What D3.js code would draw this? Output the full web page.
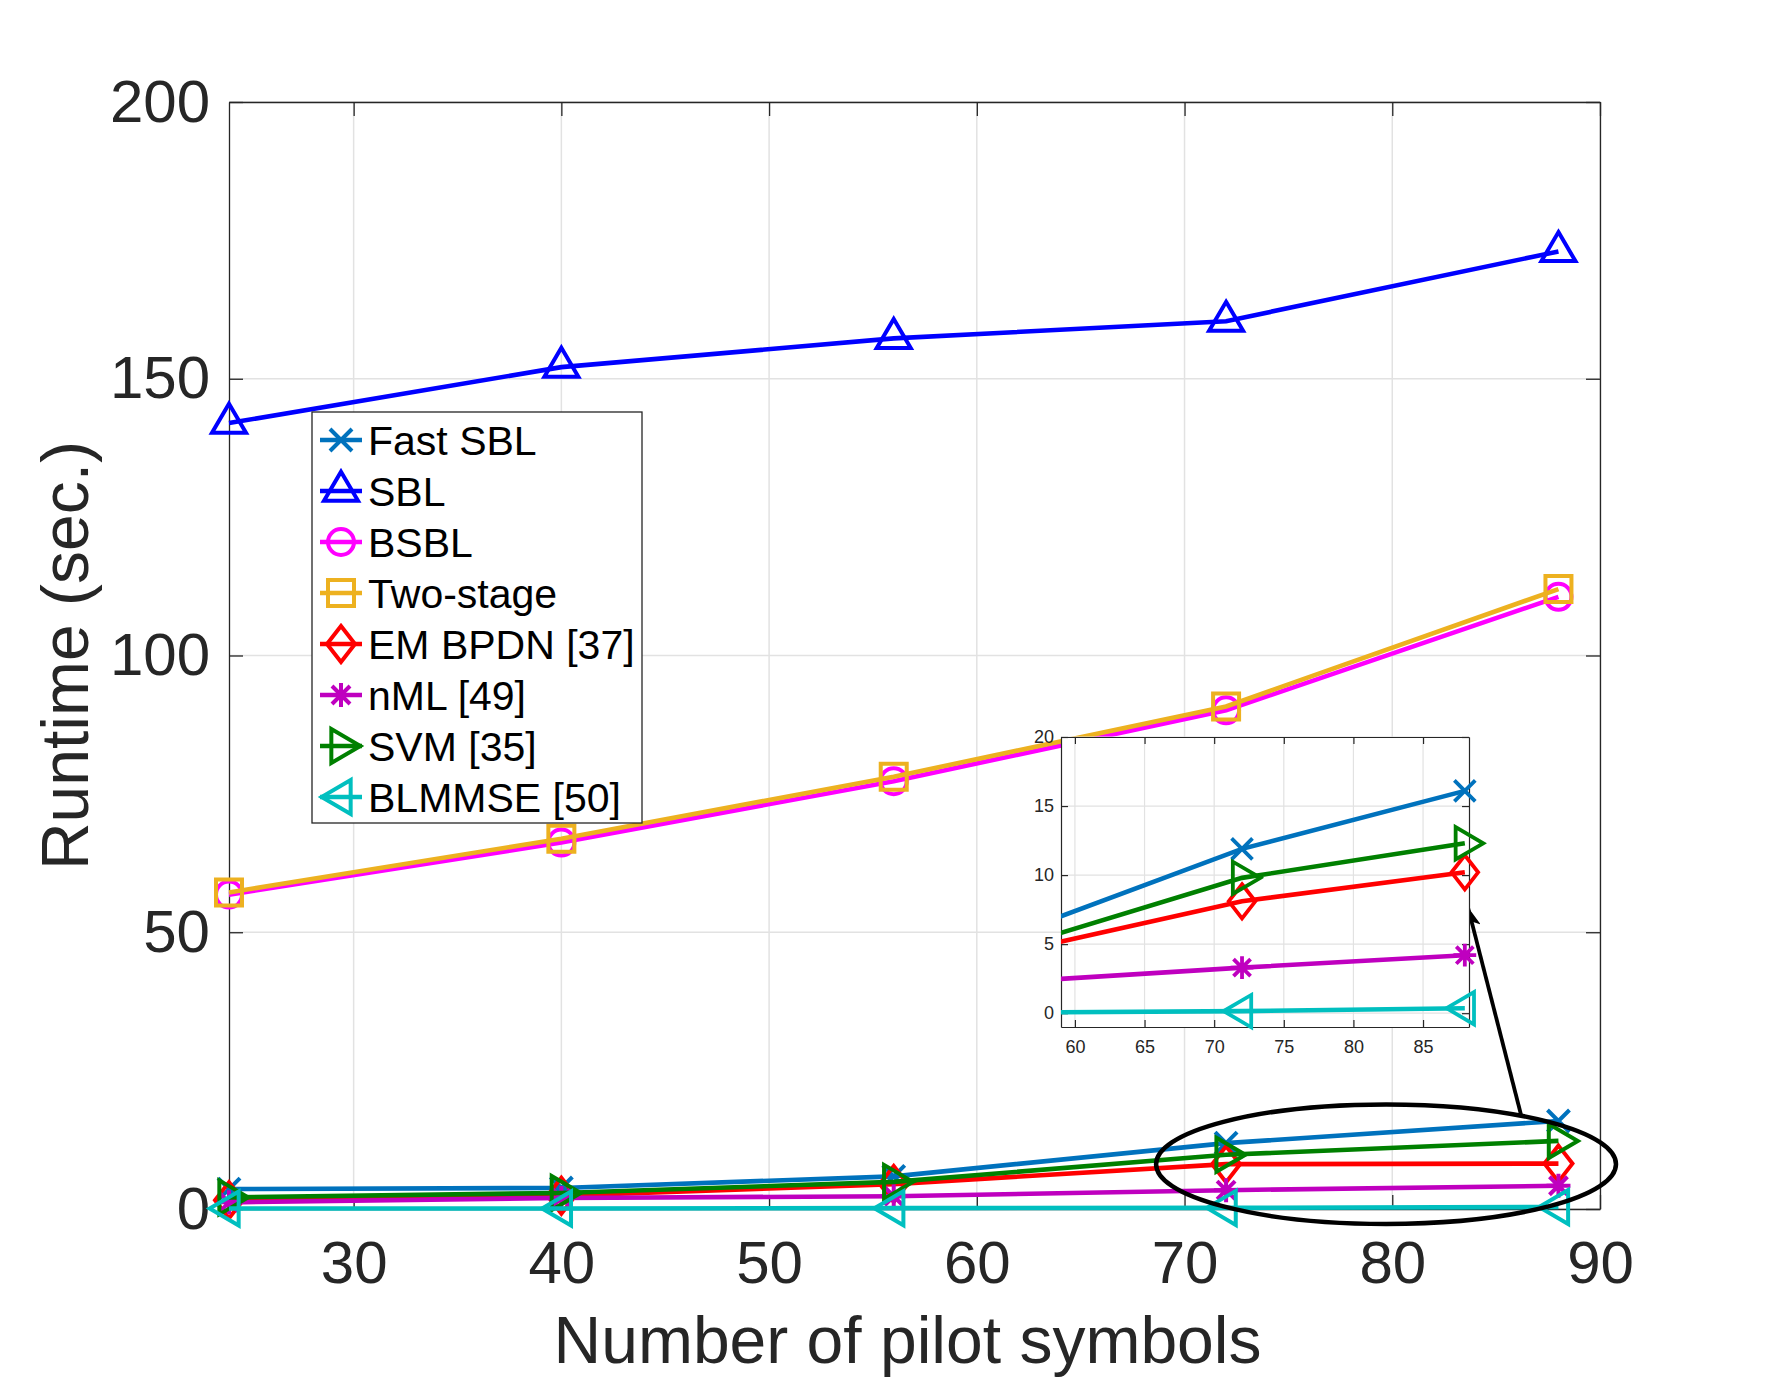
<!DOCTYPE html>
<html>
<head>
<meta charset="utf-8">
<script src="https://cdn.jsdelivr.net/npm/d3@7"></script>
<style>
body { margin: 0; background: #fff; }
text { font-family: "Liberation Sans", Arial, Helvetica, sans-serif; }
</style>
</head>
<body>
<div id="chart"></div>
<script>
// ---- data ----
var pilots = [24, 40, 56, 72, 88];
var fastSbl  = [3.6, 3.8, 5.9, 11.9, 15.9];
var sbl      = [142.0, 152.1, 157.3, 160.4, 173.0];
var bsbl     = [56.8, 66.2, 77.3, 90.1, 110.6];
var twoStage = [57.2, 66.9, 78.1, 90.8, 112.0];
var emBpdn   = [1.6, 2.4, 4.5, 8.1, 8.2];
var nml      = [1.2, 2.0, 2.3, 3.4, 4.2];
var svm      = [2.1, 2.9, 4.9, 9.8, 12.3];
var blmmse   = [0.1, 0.1, 0.15, 0.2, 0.35];

// the zoomed panel shows the last points again (EM BPDN ends higher there)
var insetPilots  = [56, 72, 88];
var fastSblInset = [5.9, 11.9, 16.1];
var emBpdnInset  = [4.5, 8.1, 10.2];
var nmlInset     = [2.3, 3.3, 4.2];
var svmInset     = [4.9, 9.8, 12.3];
var blmmseInset  = [0.05, 0.15, 0.36];

var seriesNames = ["Fast SBL", "SBL", "BSBL", "Two-stage", "EM BPDN [37]", "nML [49]", "SVM [35]", "BLMMSE [50]"];

var xTicks = [30, 40, 50, 60, 70, 80, 90];
var yTicks = [0, 50, 100, 150, 200];
var insetXTicks = [60, 65, 70, 75, 80, 85];
var insetYTicks = [0, 5, 10, 15, 20];

// ellipse + arrow given in data units of the main axes
var zoomEllipse = {cx: 79.7, cy: 8.1, rx: 11.07, ry: 10.8};
var zoomArrow = {x1: 86.2, y1: 17.0, x2: 83.65, y2: 54.4};

// ---- styles ----
var colors = ["#0072BD", "#0000FF", "#FF00FF", "#EDB120", "#FF0000", "#BF00BF", "#008000", "#00BFBF"];
var markers = ["x", "triUp", "circle", "square", "diamond", "asterisk", "triRight", "triLeft"];

var series = [fastSbl, sbl, bsbl, twoStage, emBpdn, nml, svm, blmmse].map(function(v, i) {
    return {name: seriesNames[i], color: colors[i], marker: markers[i],
        points: pilots.map(function(p, j) { return {x: p, y: v[j]}; })};
});
var insetValues = [fastSblInset, null, null, null, emBpdnInset, nmlInset, svmInset, blmmseInset];
var insetSeries = [];
insetValues.forEach(function(v, i) {
    if (!v) return;
    insetSeries.push({color: colors[i], marker: markers[i],
        points: insetPilots.map(function(p, j) { return {x: p, y: v[j]}; })});
});

// marker shapes, centred on the data point
function markerPath(type, k) {
    k = k || 1;
    var s;
    switch (type) {
        case "x":
            s = 11 * k;
            return "M" + -s + "," + -s + "L" + s + "," + s + "M" + -s + "," + s + "L" + s + "," + -s;
        case "triUp":
            var w = 17 * k, h = 29 * k;
            return "M0," + (-2 * h / 3) + "L" + w + "," + (h / 3) + "L" + -w + "," + (h / 3) + "Z";
        case "triRight":
            var w2 = 29 * k, h2 = 17 * k;
            return "M" + (2 * w2 / 3) + ",0L" + (-w2 / 3) + "," + h2 + "L" + (-w2 / 3) + "," + -h2 + "Z";
        case "triLeft":
            var w3 = 29 * k, h3 = 17 * k;
            return "M" + (-2 * w3 / 3) + ",0L" + (w3 / 3) + "," + h3 + "L" + (w3 / 3) + "," + -h3 + "Z";
        case "circle":
            s = 13 * k;
            return "M" + -s + ",0A" + s + "," + s + " 0 1,0 " + s + ",0A" + s + "," + s + " 0 1,0 " + -s + ",0Z";
        case "square":
            s = 13 * k;
            return "M" + -s + "," + -s + "H" + s + "V" + s + "H" + -s + "Z";
        case "diamond":
            var dw = 14 * k, dh = 18 * k;
            return "M0," + -dh + "L" + dw + ",0L0," + dh + "L" + -dw + ",0Z";
        case "asterisk":
            s = 12 * k;
            var d = s * 0.75;
            return "M0," + -s + "V" + s + "M" + -s + ",0H" + s +
                "M" + -d + "," + -d + "L" + d + "," + d + "M" + -d + "," + d + "L" + d + "," + -d;
    }
}

var W = 1768, H = 1379;
var svg = d3.select("#chart").append("svg")
    .attr("width", W)
    .attr("height", H);

var axisColor = "#262626", gridColor = "#e2e2e2";

// ---- main axes ----
var plot = {left: 229, right: 1600, top: 102, bottom: 1209};
var x = d3.scaleLinear().domain([24, 90]).range([plot.left, plot.right]);
var y = d3.scaleLinear().domain([0, 200]).range([plot.bottom, plot.top]);

function drawAxes(g, xs, ys, box, xt, yt, o) {
    // grid
    g.append("g").selectAll("line").data(xt).enter().append("line")
        .attr("x1", function(d) { return xs(d); }).attr("x2", function(d) { return xs(d); })
        .attr("y1", box.top).attr("y2", box.bottom)
        .attr("stroke", gridColor).attr("stroke-width", o.grid);
    g.append("g").selectAll("line").data(yt).enter().append("line")
        .attr("y1", function(d) { return ys(d); }).attr("y2", function(d) { return ys(d); })
        .attr("x1", box.left).attr("x2", box.right)
        .attr("stroke", gridColor).attr("stroke-width", o.grid);

    var bottom = g.append("g").attr("transform", "translate(0," + box.bottom + ")")
        .call(d3.axisBottom(xs).tickValues(xt).tickSizeInner(-o.tick).tickSizeOuter(0).tickPadding(o.xPad));
    var top = g.append("g").attr("transform", "translate(0," + box.top + ")")
        .call(d3.axisTop(xs).tickValues(xt).tickSizeInner(-o.tick).tickSizeOuter(0).tickFormat(""));
    var left = g.append("g").attr("transform", "translate(" + box.left + ",0)")
        .call(d3.axisLeft(ys).tickValues(yt).tickSizeInner(-o.tick).tickSizeOuter(0).tickPadding(o.yPad));
    var right = g.append("g").attr("transform", "translate(" + box.right + ",0)")
        .call(d3.axisRight(ys).tickValues(yt).tickSizeInner(-o.tick).tickSizeOuter(0).tickFormat(""));

    [bottom, top, left, right].forEach(function(a) {
        a.select(".domain").attr("stroke", axisColor).attr("stroke-width", o.axis);
        a.selectAll(".tick line").attr("stroke", axisColor).attr("stroke-width", o.axis);
        a.selectAll("text").attr("fill", axisColor).style("font-size", o.font + "px")
            .style("font-family", "'Liberation Sans', Arial, sans-serif");
    });
}

function drawSeries(g, list, xs, ys, o) {
    var line = d3.line().x(function(d) { return xs(d.x); }).y(function(d) { return ys(d.y); });
    list.forEach(function(s) {
        var sg = g.append("g");
        sg.append("path")
            .datum(s.points)
            .attr("d", line)
            .attr("fill", "none")
            .attr("stroke", s.color)
            .attr("stroke-width", o.line)
            .attr("clip-path", o.clip ? "url(#" + o.clip + ")" : null);
        sg.selectAll(".mk")
            .data(s.points.filter(function(d) { return d.x >= xs.domain()[0] && d.x <= xs.domain()[1]; }))
            .enter().append("path")
            .attr("class", "mk")
            .attr("transform", function(d) { return "translate(" + xs(d.x) + "," + ys(d.y) + ")"; })
            .attr("d", markerPath(s.marker, o.marker))
            .attr("fill", "none")
            .attr("stroke", s.color)
            .attr("stroke-width", o.markerStroke)
            .attr("stroke-linejoin", "miter");
    });
}

var main = svg.append("g");
main.append("rect")
    .attr("x", plot.left).attr("y", plot.top)
    .attr("width", plot.right - plot.left).attr("height", plot.bottom - plot.top)
    .attr("fill", "#fff");
drawAxes(main, x, y, plot, xTicks, yTicks, {grid: 1.5, tick: 14, axis: 1.3, xPad: 31, yPad: 19, font: 60});
drawSeries(main, series, x, y, {line: 4.6, marker: 1, markerStroke: 4});

// axis labels
svg.append("text")
    .attr("x", (plot.left + plot.right) / 2 - 7)
    .attr("y", 1363)
    .attr("text-anchor", "middle")
    .attr("fill", axisColor)
    .style("font-size", "66px")
    .text("Number of pilot symbols");

svg.append("text")
    .attr("transform", "translate(88," + (plot.top + plot.bottom) / 2 + ") rotate(-90)")
    .attr("text-anchor", "middle")
    .attr("fill", axisColor)
    .style("font-size", "66px")
    .text("Runtime (sec.)");

// ---- legend ----
var legend = svg.append("g");
legend.append("rect")
    .attr("x", 312).attr("y", 412)
    .attr("width", 330).attr("height", 411)
    .attr("fill", "#fff")
    .attr("stroke", axisColor)
    .attr("stroke-width", 1.3);
var rows = legend.selectAll(".row").data(series).enter().append("g")
    .attr("class", "row")
    .attr("transform", function(d, i) { return "translate(0," + (440 + i * 51) + ")"; });
rows.append("line")
    .attr("x1", 320).attr("x2", 362)
    .attr("stroke", function(d) { return d.color; })
    .attr("stroke-width", 4.6);
rows.append("path")
    .attr("transform", "translate(341,0)")
    .attr("d", function(d) { return markerPath(d.marker, 1); })
    .attr("fill", "none")
    .attr("stroke", function(d) { return d.color; })
    .attr("stroke-width", 4);
rows.append("text")
    .attr("x", 368)
    .attr("dy", "0.36em")
    .attr("fill", "#000")
    .style("font-size", "41px")
    .text(function(d) { return d.name; });

// ---- ellipse and arrow ----
var ann = svg.append("g");
ann.append("ellipse")
    .attr("cx", x(zoomEllipse.cx)).attr("cy", y(zoomEllipse.cy))
    .attr("rx", x(zoomEllipse.cx + zoomEllipse.rx) - x(zoomEllipse.cx))
    .attr("ry", y(0) - y(zoomEllipse.ry))
    .attr("fill", "none")
    .attr("stroke", "#000")
    .attr("stroke-width", 4.5);

svg.append("defs").append("marker")
    .attr("id", "head")
    .attr("viewBox", "0 0 20 16")
    .attr("refX", 19).attr("refY", 8)
    .attr("markerWidth", 20).attr("markerHeight", 16)
    .attr("markerUnits", "userSpaceOnUse")
    .attr("orient", "auto")
    .append("path")
    .attr("d", "M0,0L20,8L0,16L5,8Z")
    .attr("fill", "#000");

ann.append("line")
    .attr("x1", x(zoomArrow.x1)).attr("y1", y(zoomArrow.y1))
    .attr("x2", x(zoomArrow.x2)).attr("y2", y(zoomArrow.y2))
    .attr("stroke", "#000")
    .attr("stroke-width", 3.8)
    .attr("marker-end", "url(#head)");

// ---- inset ----
var ibox = {left: 1061, right: 1469, top: 737, bottom: 1027};
var ix = d3.scaleLinear().domain([59, 88.3]).range([ibox.left, ibox.right]);
var iy = d3.scaleLinear().domain([-1, 20]).range([ibox.bottom, ibox.top]);

svg.select("defs").append("clipPath").attr("id", "insetClip")
    .append("rect")
    .attr("x", ibox.left).attr("y", ibox.top)
    .attr("width", ibox.right - ibox.left).attr("height", ibox.bottom - ibox.top);

var inset = svg.append("g");
inset.append("rect")
    .attr("x", ibox.left).attr("y", ibox.top)
    .attr("width", ibox.right - ibox.left).attr("height", ibox.bottom - ibox.top)
    .attr("fill", "#fff");
drawAxes(inset, ix, iy, ibox, insetXTicks, insetYTicks, {grid: 1.2, tick: 7, axis: 1.2, xPad: 13, yPad: 7, font: 18});
drawSeries(inset, insetSeries, ix, iy, {line: 4.6, marker: 0.95, markerStroke: 3.8, clip: "insetClip"});
</script>
</body>
</html>
